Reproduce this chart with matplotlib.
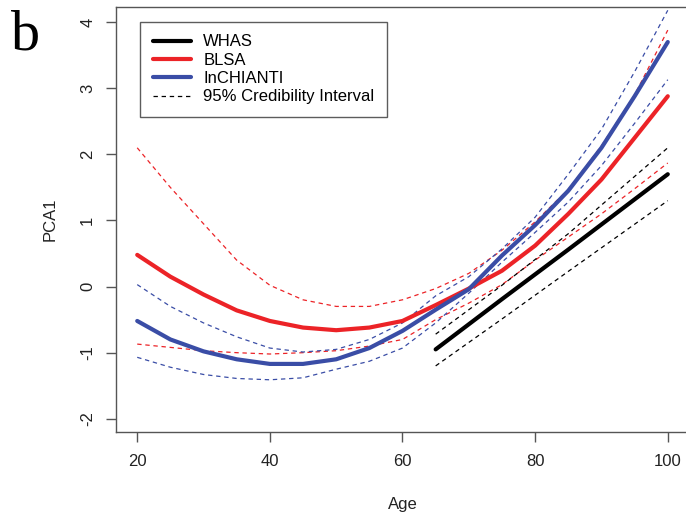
import numpy as np
from matplotlib import pyplot as plt

plt.rcParams['font.family'] = ['Liberation Sans', 'DejaVu Sans']

# ages for the smoothed curves
age = [20, 25, 30, 35, 40, 45, 50, 55, 60, 65, 70, 75, 80, 85, 90, 95, 100]

blsa       = [0.48, 0.15, -0.12, -0.36, -0.52, -0.62, -0.66, -0.62, -0.52, -0.28, -0.03, 0.24, 0.62, 1.10, 1.62, 2.25, 2.88]
blsa_hi    = [2.10, 1.50, 0.95, 0.40, 0.02, -0.20, -0.30, -0.30, -0.20, -0.03, 0.20, 0.55, 0.98, 1.47, 2.13, 2.90, 3.88]
blsa_lo    = [-0.87, -0.92, -0.97, -1.00, -1.02, -1.00, -0.97, -0.90, -0.80, -0.50, -0.25, 0.03, 0.40, 0.75, 1.10, 1.48, 1.87]

inchianti    = [-0.52, -0.80, -0.98, -1.10, -1.17, -1.17, -1.10, -0.93, -0.67, -0.35, -0.04, 0.47, 0.93, 1.45, 2.10, 2.88, 3.70]
inchianti_hi = [0.03, -0.30, -0.55, -0.76, -0.93, -0.99, -0.95, -0.80, -0.55, -0.14, 0.15, 0.57, 1.05, 1.70, 2.38, 3.25, 4.18]
inchianti_lo = [-1.07, -1.22, -1.33, -1.39, -1.41, -1.38, -1.25, -1.13, -0.93, -0.55, -0.10, 0.37, 0.82, 1.28, 1.83, 2.47, 3.13]

age_whas = [65, 75, 85, 100]
whas     = [-0.95, -0.19, 0.56, 1.70]
whas_hi  = [-0.72, 0.02, 0.80, 2.10]
whas_lo  = [-1.20, -0.49, 0.23, 1.30]

red  = '#ec2327'
blue = '#3a4da6'
lw_main = 3.0
lw_ci = 0.9
dash = (3.5, 3.0)


def main():
    fig = plt.figure(figsize=(6.86, 5.18), dpi=100)
    ax = fig.add_axes([116 / 686, 86 / 518, 573 / 686, 425 / 518])

    # CIs first, then the fits on top
    ax.plot(age, blsa_hi, color=red, lw=lw_ci, dashes=dash)
    ax.plot(age, blsa_lo, color=red, lw=lw_ci, dashes=dash)
    ax.plot(age, inchianti_hi, color=blue, lw=lw_ci, dashes=dash)
    ax.plot(age, inchianti_lo, color=blue, lw=lw_ci, dashes=dash)
    ax.plot(age_whas, whas_hi, color='black', lw=lw_ci, dashes=dash)
    ax.plot(age_whas, whas_lo, color='black', lw=lw_ci, dashes=dash)

    l1, = ax.plot(age_whas, whas, color='black', lw=lw_main, solid_capstyle='round', solid_joinstyle='round')
    l2, = ax.plot(age, blsa, color=red, lw=lw_main, solid_capstyle='round', solid_joinstyle='round')
    l3, = ax.plot(age, inchianti, color=blue, lw=lw_main, solid_capstyle='round', solid_joinstyle='round')
    l4, = ax.plot([], [], color='black', lw=lw_ci, dashes=dash)

    ax.set_xlim(16.8, 103.2)
    ax.set_ylim(-2.2, 4.23)
    ax.set_xticks([20, 40, 60, 80, 100])
    ax.set_yticks([-2, -1, 0, 1, 2, 3, 4])
    ax.set_yticklabels(['-2', '-1', '0', '1', '2', '3', '4'], rotation=90, va='center')

    for s in ax.spines.values():
        s.set_color('#555555')
        s.set_linewidth(1.0)
    ax.tick_params(direction='out', length=7, width=1.0, color='#555555',
                   labelsize=12, labelcolor='#222222')
    ax.tick_params(axis='x', pad=9)
    ax.tick_params(axis='y', pad=8)

    ax.set_xlabel('Age', fontsize=12, color='#222222', labelpad=20)
    ax.set_ylabel('PCA1', fontsize=12, color='#222222', labelpad=16)

    leg = ax.legend([l1, l2, l3, l4],
                    ['WHAS', 'BLSA', 'InCHIANTI', '95% Credibility Interval'],
                    loc='upper left', bbox_to_anchor=(0.042, 0.965),
                    fontsize=12, frameon=True, fancybox=False,
                    handlelength=2.3, handletextpad=0.75, labelspacing=0.2,
                    borderpad=0.75, borderaxespad=0)
    leg.get_frame().set_edgecolor('#333333')
    leg.get_frame().set_linewidth(1.0)

    fig.text(11 / 686, 1 - 50 / 518, 'b', family='Liberation Serif', fontsize=42)

    fig.savefig('out.png', dpi=100)


if __name__ == '__main__':
    main()
